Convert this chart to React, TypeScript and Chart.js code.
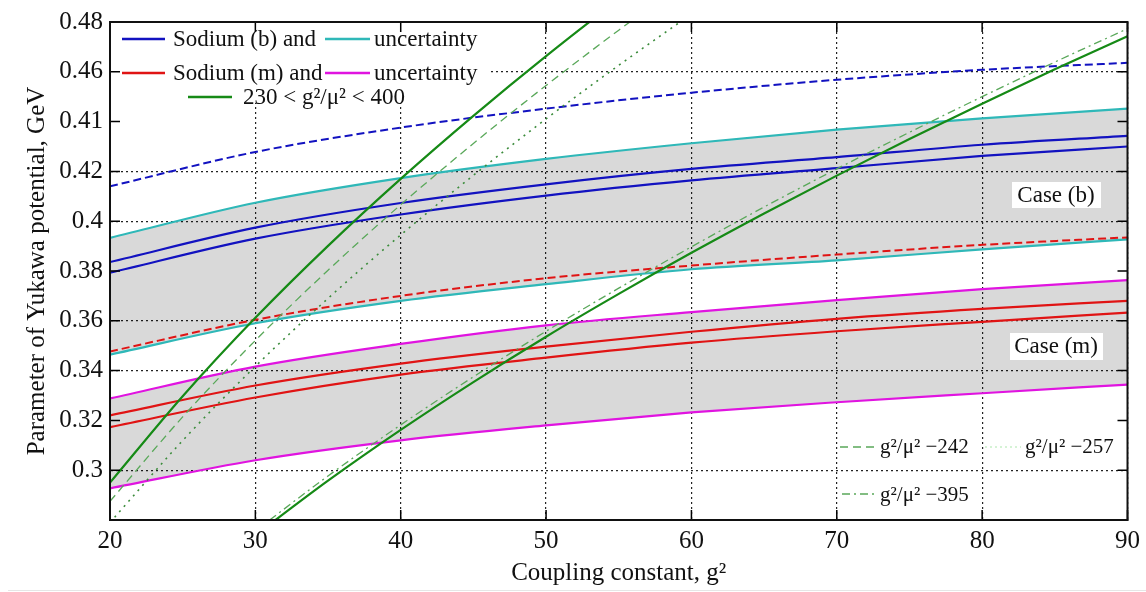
import { useEffect, useRef } from 'react';
import { Chart, registerables } from 'chart.js';

Chart.register(...registerables);

// ---------- data ----------
const xBand = [20, 30, 40, 50, 60, 70, 80, 90];

const sodiumBDashed = [0.414, 0.4278, 0.4376, 0.4452, 0.4516, 0.4568, 0.4608, 0.4636];
const sodiumBUpper = [0.3836, 0.3974, 0.4073, 0.4148, 0.421, 0.4257, 0.4307, 0.4343];
const sodiumBLower = [0.3793, 0.393, 0.4027, 0.4103, 0.4164, 0.4213, 0.4262, 0.43];
const uncertaintyBUpper = [0.3933, 0.4074, 0.4173, 0.425, 0.4313, 0.4368, 0.4413, 0.4452];
const uncertaintyBLower = [0.3464, 0.359, 0.368, 0.3747, 0.3807, 0.3843, 0.3887, 0.3927];

const sodiumMDashed = [0.3477, 0.3604, 0.37, 0.3771, 0.3822, 0.3866, 0.3905, 0.3935];
const sodiumMUpper = [0.322, 0.334, 0.3428, 0.3496, 0.3556, 0.3608, 0.3648, 0.368];
const sodiumMLower = [0.3173, 0.3292, 0.3384, 0.3452, 0.3512, 0.3558, 0.3596, 0.3633];
const uncertaintyMUpper = [0.3288, 0.3416, 0.3507, 0.3582, 0.3635, 0.3683, 0.3727, 0.3763];
const uncertaintyMLower = [0.2927, 0.304, 0.312, 0.318, 0.3232, 0.3273, 0.3309, 0.3344];

const xSteep = [20, 25, 30, 35, 40, 45, 50, 55, 60];
const ratio230 = [0.295, 0.3297, 0.3612, 0.3901, 0.417, 0.4423, 0.4663, 0.489, 0.51];
const ratio242 = [0.2875, 0.3214, 0.3521, 0.3803, 0.4066, 0.4312, 0.4545, 0.4767, 0.4979];
const ratio257 = [0.279, 0.3119, 0.3417, 0.369, 0.3945, 0.4184, 0.4411, 0.4626, 0.4832];

const xShallow = [30, 35, 40, 45, 50, 55, 60, 65, 70, 75, 80, 85, 90];
const ratio400 = [0.2739, 0.2958, 0.3162, 0.3354, 0.3536, 0.3708, 0.3873, 0.4031, 0.4183, 0.433, 0.4472, 0.461, 0.4743];
const ratio395 = [0.2756, 0.2977, 0.3182, 0.3375, 0.3558, 0.3731, 0.3897, 0.4057, 0.421, 0.4357, 0.45, 0.4639, 0.4773];

const xTickLabels = ['20', '30', '40', '50', '60', '70', '80', '90'];
const yTickLabels = ['', '0.3', '0.32', '0.34', '0.36', '0.38', '0.4', '0.42', '0.41', '0.46', '0.48'];
const hiddenGridY = [0.32, 0.38, 0.44];

// ---------- styles ----------
const BLUE = '#1212c0';
const CYAN = '#2fb8b8';
const RED = '#e01414';
const MAGENTA = '#e014e0';
const GREEN = '#168a16';
const GREEN_LIGHT = '#5aa85a';
const SERIF = '"Liberation Serif", "Times New Roman", serif';

const pts = (xs: number[], ys: number[]) => xs.map((x, i) => ({ x, y: ys[i] }));

const line = (xs: number[], ys: number[], color: string, width: number, dash: number[] = [], extra: any = {}) => ({
  data: pts(xs, ys),
  borderColor: color,
  borderWidth: width,
  borderDash: dash,
  pointRadius: 0,
  fill: false,
  cubicInterpolationMode: 'monotone',
  ...extra,
});

const sampleLine = (ctx: any, x1: number, x2: number, y: number, color: string, w: number, dash: number[] = []) => {
  ctx.save();
  ctx.strokeStyle = color;
  ctx.lineWidth = w;
  ctx.setLineDash(dash);
  ctx.beginPath();
  ctx.moveTo(x1, y);
  ctx.lineTo(x2, y);
  ctx.stroke();
  ctx.restore();
};

const decorPlugin = {
  id: 'decor',
  beforeDatasetsDraw(chart: any) {
    const { ctx, chartArea: a } = chart;
    ctx.save();
    ctx.fillStyle = '#fff';
    ctx.fillRect(a.left + 1, a.top + 1, 379, 80);
    ctx.restore();
  },
  afterDatasetsDraw(chart: any) {
    const { ctx, chartArea: a, scales } = chart;
    const xs = scales.x;
    const ys = scales.y;
    ctx.save();
    // inner tick marks
    ctx.strokeStyle = '#000';
    ctx.lineWidth = 1.5;
    ctx.setLineDash([]);
    ctx.beginPath();
    xs.ticks.forEach((t: any) => {
      const px = xs.getPixelForValue(t.value);
      ctx.moveTo(px, a.bottom);
      ctx.lineTo(px, a.bottom - 10);
      ctx.moveTo(px, a.top);
      ctx.lineTo(px, a.top + 10);
    });
    ys.ticks.forEach((t: any) => {
      const py = ys.getPixelForValue(t.value);
      ctx.moveTo(a.left, py);
      ctx.lineTo(a.left + 10, py);
      ctx.moveTo(a.right, py);
      ctx.lineTo(a.right - 10, py);
    });
    ctx.stroke();

    // top-left legend
    ctx.fillStyle = '#111';
    ctx.textAlign = 'left';
    ctx.textBaseline = 'middle';
    ctx.font = `23px ${SERIF}`;
    sampleLine(ctx, 122, 165, 39, BLUE, 2.5);
    ctx.fillText('Sodium (b) and', 173, 40);
    sampleLine(ctx, 325, 370, 39, CYAN, 2.5);
    ctx.fillText('uncertainty', 374, 40);
    sampleLine(ctx, 122, 165, 73, RED, 2.5);
    ctx.fillText('Sodium (m) and', 173, 74);
    sampleLine(ctx, 325, 370, 73, MAGENTA, 2.5);
    ctx.fillText('uncertainty', 374, 74);
    sampleLine(ctx, 188, 232, 97, GREEN, 2.5);
    ctx.fillText('230 < g²/μ² < 400', 243, 98);

    // case labels
    ctx.fillStyle = '#fff';
    ctx.fillRect(1012, 182, 89, 26);
    ctx.fillRect(1010, 333, 93, 27);
    ctx.fillStyle = '#111';
    ctx.textAlign = 'center';
    ctx.fillText('Case (b)', 1056, 196);
    ctx.fillText('Case (m)', 1056, 347);

    // bottom-right legend
    ctx.textAlign = 'left';
    ctx.font = `21px ${SERIF}`;
    sampleLine(ctx, 840, 877, 447, GREEN_LIGHT, 1.5, [8, 5]);
    ctx.fillText('g²/μ² −242', 880, 447);
    sampleLine(ctx, 985, 1021, 447, '#c8f0c8', 1.5, [2, 3]);
    ctx.fillText('g²/μ² −257', 1025, 447);
    sampleLine(ctx, 842, 878, 494, GREEN_LIGHT, 1.5, [8, 4, 2, 4]);
    ctx.fillText('g²/μ² −395', 880, 495);

    // frame
    ctx.strokeStyle = '#111';
    ctx.lineWidth = 2;
    ctx.setLineDash([]);
    ctx.strokeRect(a.left, a.top, a.right - a.left, a.bottom - a.top);

    // faint bottom rule
    ctx.fillStyle = '#e6e6e6';
    ctx.fillRect(8, 590, 1138, 1);
    ctx.restore();
  },
};

export default function App() {
  const ref = useRef<HTMLCanvasElement | null>(null);

  useEffect(() => {
    if (!ref.current) return;
    const fillColor = 'rgba(0,0,0,0.15)';
    const datasets: any[] = [
      line(xSteep, ratio230, GREEN, 2.2),
      line(xShallow, ratio400, GREEN, 2.2),
      line(xSteep, ratio242, GREEN_LIGHT, 1.3, [8, 5]),
      line(xSteep, ratio257, '#3c8c3c', 1.6, [2, 5]),
      line(xShallow, ratio395, GREEN_LIGHT, 1.3, [8, 4, 2, 4]),
      line(xBand, sodiumBDashed, BLUE, 2, [8, 4]),
      line(xBand, sodiumBUpper, BLUE, 2.2),
      line(xBand, sodiumBLower, BLUE, 2.2),
      line(xBand, sodiumMDashed, RED, 2, [8, 4]),
      line(xBand, sodiumMUpper, RED, 2.2),
      line(xBand, sodiumMLower, RED, 2.2),
      line(xBand, uncertaintyBUpper, CYAN, 2.2, [], { fill: 12, backgroundColor: fillColor }),
      line(xBand, uncertaintyBLower, CYAN, 2.2),
      line(xBand, uncertaintyMUpper, MAGENTA, 2.2, [], { fill: 14, backgroundColor: fillColor }),
      line(xBand, uncertaintyMLower, MAGENTA, 2.2),
    ];

    const chart = new Chart(ref.current, {
      type: 'line',
      data: { datasets },
      plugins: [decorPlugin],
      options: {
        animation: false,
        responsive: true,
        maintainAspectRatio: false,
        events: [],
        layout: { padding: { top: 20, right: 18, left: 0, bottom: 0 } },
        plugins: {
          legend: { display: false },
          tooltip: { enabled: false },
          filler: { drawTime: 'beforeDatasetsDraw' } as any,
        },
        scales: {
          x: {
            type: 'linear',
            min: 20,
            max: 90,
            afterFit: (s: any) => { s.height = 72; },
            ticks: {
              stepSize: 10,
              padding: 6,
              color: '#111',
              font: { family: SERIF, size: 25 },
              callback: (_v: any, i: number) => xTickLabels[i],
            },
            grid: { color: '#222', lineWidth: 1.2, drawTicks: false },
            border: { dash: [2, 3], color: '#111', width: 2 },
            title: {
              display: true,
              text: 'Coupling constant, g²',
              color: '#111',
              font: { family: SERIF, size: 25 },
              padding: { top: 0, bottom: 4 },
            },
          },
          y: {
            type: 'linear',
            min: 0.28,
            max: 0.48,
            afterFit: (s: any) => { s.width = 110; },
            ticks: {
              stepSize: 0.02,
              padding: 7,
              color: '#111',
              font: { family: SERIF, size: 25 },
              callback: (_v: any, i: number) => yTickLabels[i],
            },
            grid: {
              color: (c: any) =>
                c.tick && hiddenGridY.some((v) => Math.abs(c.tick.value - v) < 1e-6) ? 'rgba(0,0,0,0)' : '#222',
              lineWidth: 1.2,
              drawTicks: false,
            },
            border: { dash: [2, 3], color: '#111', width: 2 },
            title: {
              display: true,
              text: 'Parameter of Yukawa potential, GeV',
              color: '#111',
              font: { family: SERIF, size: 25 },
              padding: { top: 22, bottom: 0 },
            },
          },
        },
      },
    });
    return () => chart.destroy();
  }, []);

  return (
    <div style={{ position: 'absolute', left: 0, top: 0, width: 1146, height: 592, background: '#fff' }}>
      <canvas ref={ref} />
    </div>
  );
}
